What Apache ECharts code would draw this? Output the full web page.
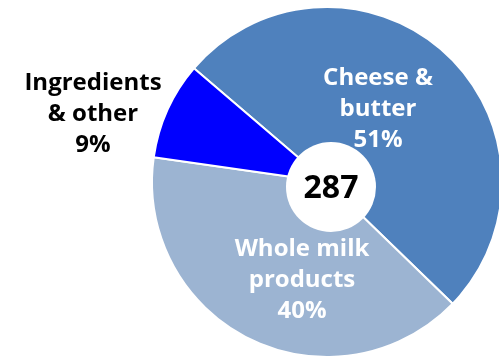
<!DOCTYPE html>
<html>
<head>
<meta charset="utf-8">
<script src="https://cdn.jsdelivr.net/npm/echarts@6/dist/echarts.min.js"></script>
<style>
  html, body { margin: 0; padding: 0; background: #fff; }
</style>
</head>
<body>
<div id="pieChart" style="width: 499px; height: 359px;"></div>
<script>
// categories and shares (%)
var categories = ['Cheese &\nbutter', 'Whole milk\nproducts', 'Ingredients\n& other'];
var shares = [51, 40, 9];
var total = 287;

var colors = ['#4F81BD', '#9CB4D2', '#0000FF'];
var labelColors = ['#fff', '#fff', '#000'];
// where each label sits
var labelSpots = [[378, 109], [302, 280], [93, 114]];

var chart = echarts.init(document.getElementById('pieChart'));

var option = {
  animation: false,
  graphic: [
    {
      type: 'circle',
      shape: { cx: 331, cy: 187, r: 45 },
      style: { fill: '#fff' },
      z: 10
    },
    {
      type: 'text',
      x: 331,
      y: 189,
      style: {
        text: String(total),
        fill: '#000',
        font: 'bold 32px "Open Sans"',
        textAlign: 'center',
        textVerticalAlign: 'middle'
      },
      z: 11
    }
  ],
  series: [
    {
      type: 'pie',
      center: [327, 182],
      radius: [0, 175],
      startAngle: 139.5,
      clockwise: true,
      itemStyle: {
        borderColor: '#fff',
        borderWidth: 2
      },
      label: {
        show: true,
        position: 'inside',
        fontFamily: 'Open Sans',
        fontWeight: 'bold',
        fontSize: 24,
        lineHeight: 31,
        align: 'center',
        formatter: function (p) {
          return p.name + '\n' + p.value + '%';
        }
      },
      labelLine: { show: false },
      labelLayout: function (p) {
        var s = labelSpots[p.dataIndex];
        return { x: s[0], y: s[1], align: 'center', verticalAlign: 'middle' };
      },
      data: categories.map(function (c, i) {
        return {
          name: c,
          value: shares[i],
          itemStyle: { color: colors[i] },
          label: { color: labelColors[i] }
        };
      })
    }
  ]
};

chart.setOption(option);
</script>
</body>
</html>
